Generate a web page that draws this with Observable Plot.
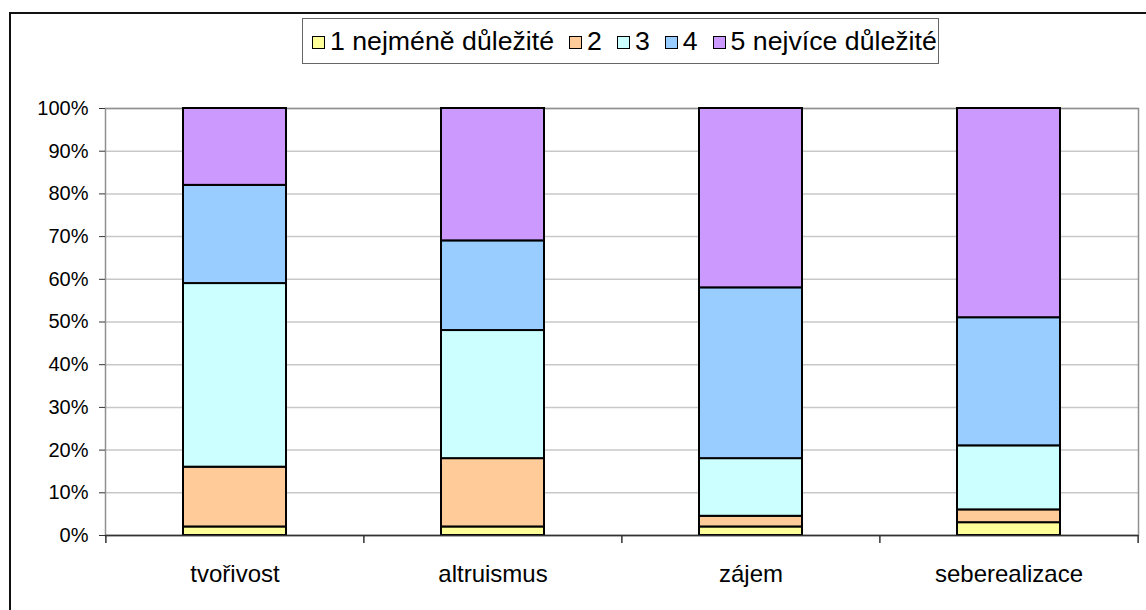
<!DOCTYPE html>
<html>
<head>
<meta charset="utf-8">
<script src="https://cdn.jsdelivr.net/npm/d3@7"></script>
<script src="https://cdn.jsdelivr.net/npm/@observablehq/plot@0.6"></script>
<style>
  html, body { margin: 0; padding: 0; background: #fff; }
  #wrap { position: relative; width: 1146px; height: 610px; overflow: hidden; font-family: "Liberation Sans", Arial, sans-serif; }
  #frame { position: absolute; left: 9px; top: 12px; width: 1200px; height: 700px; border: 2px solid #111; box-sizing: border-box; }
  #chart { position: absolute; left: 0; top: 0; }
  #legend { position: absolute; left: 302px; top: 18px; width: 637px; height: 46px; border: 1.5px solid #666; box-sizing: border-box; background: #fff;
            display: flex; align-items: center; padding-left: 9px; font-size: 26.7px; color: #000; white-space: nowrap; }
  .item { display: flex; align-items: center; margin-right: 15px; flex-shrink: 0; }
  .sw { width: 13px; height: 13px; box-sizing: border-box; border: 1.6px solid #000; margin-right: 5px; margin-top: 2px; flex-shrink: 0; }
</style>
</head>
<body>
<div id="wrap">
  <div id="frame"></div>
  <div id="chart"></div>
  <div id="legend"></div>
</div>
<script>
const categories = ["tvořivost", "altruismus", "zájem", "seberealizace"];
const series = ["1 nejméně důležité", "2", "3", "4", "5 nejvíce důležité"];
const colors = ["#FFFF99", "#FFCC99", "#CCFFFF", "#99CCFF", "#CC99FF"];
const s1 = [2, 2, 2, 3];
const s2 = [14, 16, 2.5, 3];
const s3 = [43, 30, 13.5, 15];
const s4 = [23, 21, 40, 30];
const s5 = [18, 31, 42, 49];
const yTicks = [0, 10, 20, 30, 40, 50, 60, 70, 80, 90, 100];

const seriesValues = [s1, s2, s3, s4, s5];
const data = [];
series.forEach((s, i) => categories.forEach((c, j) => data.push({cat: c, series: s, value: seriesValues[i][j]})));

const W = 1146, H = 610, ML = 105, MR = 8, MT = 108, MB = 75;
const step = (W - ML - MR) / categories.length;

const chart = Plot.plot({
  width: W, height: H,
  marginLeft: ML, marginRight: MR, marginTop: MT, marginBottom: MB,
  style: {fontFamily: "'Liberation Sans', Arial, sans-serif", background: "transparent", color: "#000"},
  x: {domain: categories, paddingInner: 0.6, paddingOuter: 0.3, axis: null, label: null},
  y: {domain: [0, 100], axis: null, label: null},
  color: {domain: series, range: colors},
  marks: [
    Plot.ruleY(yTicks, {stroke: "#c8c8c8", strokeWidth: 1.5}),
    Plot.frame({stroke: "#909090", strokeWidth: 1.5}),
    Plot.barY(data, {x: "cat", y: "value", fill: "series", stroke: "#000", strokeWidth: 2}),
    Plot.ruleX([0], {frameAnchor: "left", stroke: "#555", strokeWidth: 1.5}),
    Plot.ruleY([0], {stroke: "#333", strokeWidth: 1.5}),
    Plot.axisY({ticks: yTicks, tickFormat: d => d + "%", tickSize: 6, tickPadding: 11, fontSize: 20, stroke: "#333", label: null}),
    Plot.axisX({tickSize: 0, tickPadding: 29, fontSize: 24, label: null}),
    Plot.axisX({ticks: categories, tickSize: 8, text: null, dx: -step / 2, stroke: "#333", strokeWidth: 1.5, label: null}),
    Plot.axisX({ticks: [categories[categories.length - 1]], tickSize: 8, text: null, dx: step / 2, stroke: "#333", strokeWidth: 1.5, label: null})
  ]
});
document.getElementById("chart").appendChild(chart);

const legend = document.getElementById("legend");
series.forEach((s, i) => {
  const it = document.createElement("div");
  it.className = "item";
  const sw = document.createElement("div");
  sw.className = "sw";
  sw.style.background = colors[i];
  const t = document.createElement("span");
  t.textContent = s;
  it.appendChild(sw);
  it.appendChild(t);
  legend.appendChild(it);
});
</script>
</body>
</html>
